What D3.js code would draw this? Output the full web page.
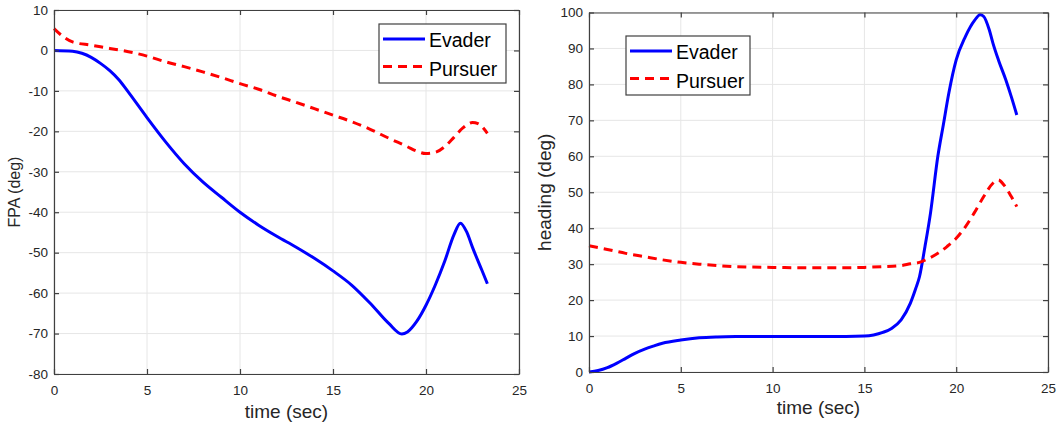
<!DOCTYPE html>
<html>
<head>
<meta charset="utf-8">
<script src="https://cdn.jsdelivr.net/npm/d3@7"></script>
<style>
  body { margin: 0; background: #fff; }
  svg { display: block; font-family: "Liberation Sans", Arial, sans-serif; }
  .tick text { font-size: 13.5px; fill: #262626; }
  .axlabel { fill: #262626; }
</style>
</head>
<body>
<main></main>
<script>
// time (sec), value (deg) pairs
var fpaEvader = [[0,0],[1,-0.2],[1.5,-0.7],[2,-1.7],[2.5,-3.2],[3,-5],[3.5,-7.3],[4,-10.3],[5,-16.6],[6,-22.6],[7,-28],[8,-32.5],[9,-36.3],[10,-40],[11,-43.2],[12,-46],[13,-48.6],[14,-51.4],[15,-54.5],[16,-58],[17,-62.5],[18,-67.5],[18.7,-70.1],[19,-69.6],[19.5,-67],[20,-63],[20.5,-58],[21,-52.2],[21.5,-45.6],[21.85,-42.7],[22.2,-45],[22.5,-48.7],[23,-54.3],[23.3,-57.7]];
var fpaPursuer = [[0,5.4],[0.5,3.4],[1,2.1],[2,1.3],[3,0.5],[4,-0.3],[5,-1.4],[6,-2.8],[7,-4],[8,-5.3],[9,-6.7],[10,-8.2],[11,-9.6],[12,-11.3],[13,-12.8],[14,-14.4],[15,-16],[16,-17.6],[17,-19.5],[18,-21.7],[19,-23.8],[19.5,-24.9],[20,-25.5],[20.5,-25.2],[21,-23.8],[21.5,-21.5],[22,-19.1],[22.5,-17.8],[22.8,-18.1],[23.3,-20.5]];
var headEvader = [[0,0],[0.5,0.4],[1,1.2],[1.5,2.4],[2,3.8],[2.5,5.2],[3,6.3],[3.5,7.2],[4,8],[5,8.9],[6,9.5],[7,9.75],[8,9.85],[10,9.9],[12,9.9],[14,9.9],[15,10],[15.5,10.3],[16,11],[16.5,12.2],[17,14.5],[17.5,19.1],[17.8,23.3],[18,26.5],[18.3,34.9],[18.6,44.2],[19,60],[19.3,68.8],[19.6,77.6],[20,86.8],[20.5,93.3],[21,97.8],[21.3,99.4],[21.5,98.9],[21.8,95.2],[22,91.5],[22.3,86.8],[22.7,81.3],[23,76.6],[23.3,71.5]];
var headPursuer = [[0,35.1],[1,34.1],[2,33],[3,32.1],[4,31.2],[5,30.5],[6,30],[7,29.6],[8,29.3],[10,29.1],[12,29],[14,29],[15,29.1],[16,29.3],[17,29.6],[17.5,30.1],[18,30.5],[18.5,31.6],[19,33],[19.5,34.9],[20,37.2],[20.5,40.4],[21,44.4],[21.5,48.8],[22,52.5],[22.3,53.4],[22.6,52],[23,48.8],[23.3,46]];

var timeTicks = [0, 5, 10, 15, 20, 25];
var fpaTicks = [-80, -70, -60, -50, -40, -30, -20, -10, 0, 10];
var headTicks = [0, 10, 20, 30, 40, 50, 60, 70, 80, 90, 100];
var seriesNames = ["Evader", "Pursuer"];
var seriesColors = ["#0000ff", "#ff0000"];

var svg = d3.select("main").append("svg")
            .attr("width", 1058)
            .attr("height", 428);

// plain hyphen for negatives, like the original
var plain = function(d) { return String(d); };

function drawPanel(p) {
  var x = d3.scaleLinear().domain([0, 25]).range([p.left, p.right]);
  var y = d3.scaleLinear().domain(p.ydom).range([p.bottom, p.top]);
  var g = svg.append("g");

  // grid
  g.selectAll(".gx").data(timeTicks).enter().append("line")
   .attr("x1", function(d){ return x(d); }).attr("x2", function(d){ return x(d); })
   .attr("y1", p.top).attr("y2", p.bottom)
   .attr("stroke", "#e6e6e6").attr("stroke-width", 1);
  g.selectAll(".gy").data(p.yticks).enter().append("line")
   .attr("x1", p.left).attr("x2", p.right)
   .attr("y1", function(d){ return y(d); }).attr("y2", function(d){ return y(d); })
   .attr("stroke", "#e6e6e6").attr("stroke-width", 1);

  // lines
  var line = d3.line()
               .x(function(d){ return x(d[0]); })
               .y(function(d){ return y(d[1]); })
               .curve(d3.curveMonotoneX);
  g.append("path").datum(p.evader)
   .attr("d", line).attr("fill", "none")
   .attr("stroke", seriesColors[0]).attr("stroke-width", 3);
  g.append("path").datum(p.pursuer)
   .attr("d", line).attr("fill", "none")
   .attr("stroke", seriesColors[1]).attr("stroke-width", 3)
   .attr("stroke-dasharray", "9,6");

  // axes (box with inward ticks)
  var bottom = g.append("g").attr("transform", "translate(0," + p.bottom + ")")
                .call(d3.axisBottom(x).tickValues(timeTicks).tickFormat(plain).tickSize(-5).tickSizeOuter(0).tickPadding(11));
  var left = g.append("g").attr("transform", "translate(" + p.left + ",0)")
              .call(d3.axisLeft(y).tickValues(p.yticks).tickFormat(plain).tickSize(-5).tickSizeOuter(0).tickPadding(6));
  var top = g.append("g").attr("transform", "translate(0," + p.top + ")")
             .call(d3.axisTop(x).tickValues(timeTicks).tickSize(-5).tickSizeOuter(0).tickFormat(""));
  var right = g.append("g").attr("transform", "translate(" + p.right + ",0)")
               .call(d3.axisRight(y).tickValues(p.yticks).tickSize(-5).tickSizeOuter(0).tickFormat(""));
  [bottom, left, top, right].forEach(function(a){
    a.selectAll("path,line").attr("stroke", "#404040").attr("stroke-width", 1.2);
    a.selectAll("text").attr("font-family", null).attr("font-size", null);
  });

  // labels
  g.append("text").attr("class", "axlabel")
   .attr("x", (p.left + p.right) / 2).attr("y", p.xlabY)
   .attr("text-anchor", "middle").attr("font-size", 19)
   .text("time (sec)");
  g.append("text").attr("class", "axlabel")
   .attr("transform", "translate(" + p.ylabX + "," + ((p.top + p.bottom) / 2) + ") rotate(-90)")
   .attr("text-anchor", "middle").attr("font-size", p.ylabSize)
   .text(p.ylabel);

  // legend
  var lg = g.append("g").attr("transform", "translate(" + p.leg[0] + "," + p.leg[1] + ")");
  lg.append("rect").attr("width", p.leg[2]).attr("height", 59)
    .attr("fill", "#fff").attr("stroke", "#404040").attr("stroke-width", 1.2);
  seriesNames.forEach(function(name, i){
    lg.append("line").attr("x1", 4).attr("x2", 46)
      .attr("y1", 15 + i * 27.5).attr("y2", 15 + i * 27.5)
      .attr("stroke", seriesColors[i]).attr("stroke-width", 3)
      .attr("stroke-dasharray", i == 1 ? "9,6" : null);
    lg.append("text").attr("x", 50).attr("y", 23 + i * 28.5)
      .attr("font-size", 19.5).attr("fill", "#000")
      .text(name);
  });
}

drawPanel({left: 54, right: 519, top: 10, bottom: 374, ydom: [-80, 10], yticks: fpaTicks,
           evader: fpaEvader, pursuer: fpaPursuer, ylabel: "FPA (deg)", ylabX: 20, ylabSize: 16,
           xlabY: 418, leg: [379, 24, 127]});
drawPanel({left: 589, right: 1048, top: 12.5, bottom: 372, ydom: [0, 100], yticks: headTicks,
           evader: headEvader, pursuer: headPursuer, ylabel: "heading (deg)", ylabX: 551, ylabSize: 19,
           xlabY: 414, leg: [626, 36, 124]});
</script>
</body>
</html>
